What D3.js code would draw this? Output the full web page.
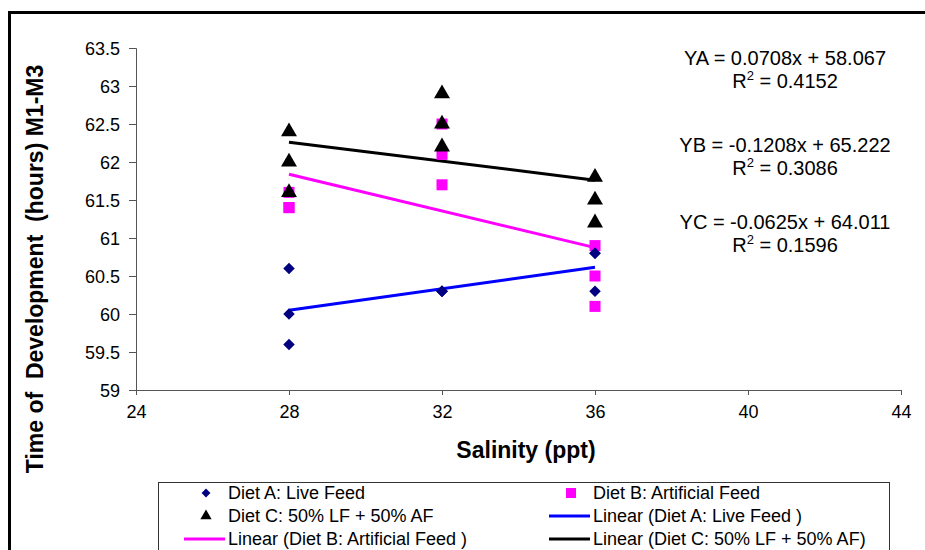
<!DOCTYPE html>
<html>
<head>
<meta charset="utf-8">
<script src="https://cdn.jsdelivr.net/npm/d3@7"></script>
<style>
  html, body { margin: 0; background: #fff; overflow: hidden; }
  svg { display: block; }
  text { font-family: Arial, "Liberation Sans", sans-serif; }
</style>
</head>
<body>
<div id="chart"></div>
<script>
// Salinity levels and the three replicates per level for each diet.
const salinity = [28, 32, 36];
const dietA = [[60.6, 60.0, 59.6], [60.3, 60.3, 60.3], [60.8, 60.8, 60.3]];
const dietB = [[61.4, 61.4, 61.6], [62.5, 62.1, 61.7], [60.9, 60.5, 60.1]];
const dietC = [[62.4, 62.0, 61.6], [62.9, 62.5, 62.2], [61.8, 61.5, 61.2]];

// Trend line coefficients as printed on the chart.
const fits = [
  { name: "A", slope: 0.0708, intercept: 58.067, r2: "0.4152", color: "#0000ff" },
  { name: "B", slope: -0.1208, intercept: 65.222, r2: "0.3086", color: "#ff00ff" },
  { name: "C", slope: -0.0625, intercept: 64.011, r2: "0.1596", color: "#000000" }
];

const xTicks = [24, 28, 32, 36, 40, 44];
const yTicks = [59, 59.5, 60, 60.5, 61, 61.5, 62, 62.5, 63, 63.5];

const width = 925, height = 550;
const svg = d3.select("#chart").append("svg")
  .attr("width", width)
  .attr("height", height);

// Outer frame of the figure (only the top and left edges are in view).
svg.append("path")
  .attr("d", `M9.5,${height + 5}V12.5H${width + 5}`)
  .attr("fill", "none")
  .attr("stroke", "#000")
  .attr("stroke-width", 3);

const x = d3.scaleLinear().domain([24, 44]).range([136, 901]);
const y = d3.scaleLinear().domain([59, 63.5]).range([390, 48]);

// Axes.
const xAxis = d3.axisBottom(x).tickValues(xTicks).tickSize(5).tickPadding(10).tickFormat(d3.format("d"));
const yAxis = d3.axisLeft(y).tickValues(yTicks).tickSize(7).tickPadding(9).tickFormat(d => d);

const gx = svg.append("g").attr("transform", `translate(0,${y(59)})`).call(xAxis);
const gy = svg.append("g").attr("transform", `translate(${x(24)},0)`).call(yAxis);
[gx, gy].forEach(g => {
  g.select(".domain").attr("stroke", "#555");
  g.selectAll(".tick line").attr("stroke", "#555");
  g.selectAll(".tick text")
    .attr("font-size", "18px")
    .attr("fill", "#000")
    .style("font-family", "Arial, 'Liberation Sans', sans-serif");
});
gy.selectAll(".tick text").attr("dy", "0.36em");

// Axis titles.
svg.append("text")
  .attr("x", 526).attr("y", 458)
  .attr("text-anchor", "middle")
  .attr("font-size", "23px")
  .attr("font-weight", "bold")
  .text("Salinity (ppt)");

svg.append("text")
  .attr("transform", "translate(43,269) rotate(-90)")
  .attr("text-anchor", "middle")
  .attr("font-size", "23px")
  .attr("font-weight", "bold")
  .attr("xml:space", "preserve")
  .text("Time of  Development  (hours) M1-M3");

// Trend lines from the first to the last salinity level.
const xs = d3.extent(salinity);
const lineGen = d3.line().x(d => x(d[0])).y(d => y(d[1]));
fits.forEach(f => {
  svg.append("path")
    .attr("d", lineGen(xs.map(v => [v, f.slope * v + f.intercept])))
    .attr("fill", "none")
    .attr("stroke", f.color)
    .attr("stroke-width", 3);
});

// Point markers.
function flatten(series) {
  const out = [];
  series.forEach((vals, i) => vals.forEach(v => out.push([salinity[i], v])));
  return out;
}
const diamond = d3.symbol().type(d3.symbolDiamond2).size(85);
const triangle = d3.symbol().type(d3.symbolTriangle).size(110);

svg.append("g").selectAll("rect")
  .data(flatten(dietB)).enter().append("rect")
  .attr("x", d => x(d[0]) - 5.5)
  .attr("y", d => y(d[1]) - 5.5)
  .attr("width", 11).attr("height", 11)
  .attr("fill", "#ff00ff");

svg.append("g").selectAll("path")
  .data(flatten(dietA)).enter().append("path")
  .attr("d", diamond)
  .attr("transform", d => `translate(${x(d[0])},${y(d[1])})`)
  .attr("fill", "#000080");

svg.append("g").selectAll("path")
  .data(flatten(dietC)).enter().append("path")
  .attr("d", triangle)
  .attr("transform", d => `translate(${x(d[0])},${y(d[1])})`)
  .attr("fill", "#000");

// Regression equations.
const eqY = [65, 152, 229];
fits.forEach((f, i) => {
  const sign = f.slope < 0 ? "-" : "";
  svg.append("text")
    .attr("x", 785).attr("y", eqY[i])
    .attr("text-anchor", "middle")
    .attr("font-size", "20px")
    .text(`Y${f.name} = ${sign}${Math.abs(f.slope).toFixed(4)}x + ${f.intercept.toFixed(3)}`);
  const t2 = svg.append("text")
    .attr("x", 785).attr("y", eqY[i] + 23)
    .attr("text-anchor", "middle")
    .attr("font-size", "20px");
  t2.append("tspan").text("R");
  t2.append("tspan").attr("font-size", "13px").attr("dy", "-8").text("2");
  t2.append("tspan").attr("dy", "8").text(` = ${f.r2}`);
});

// Legend.
const legend = svg.append("g");
legend.append("rect")
  .attr("x", 158.5).attr("y", 482.5)
  .attr("width", 731).attr("height", 100)
  .attr("fill", "#fff")
  .attr("stroke", "#333")
  .attr("stroke-width", 1);

const legendItems = [
  { label: "Diet A: Live Feed", kind: "diamond", color: "#000080", col: 0, row: 0 },
  { label: "Diet B: Artificial Feed", kind: "square", color: "#ff00ff", col: 1, row: 0 },
  { label: "Diet C: 50% LF + 50% AF", kind: "triangle", color: "#000", col: 0, row: 1 },
  { label: "Linear (Diet A: Live Feed )", kind: "line", color: "#0000ff", col: 1, row: 1 },
  { label: "Linear (Diet B: Artificial Feed )", kind: "line", color: "#ff00ff", col: 0, row: 2 },
  { label: "Linear (Diet C: 50% LF + 50% AF)", kind: "line", color: "#000", col: 1, row: 2 }
];
const colX = [228, 593];
const rowY = [499, 522, 545];

legendItems.forEach(it => {
  const tx = colX[it.col], ty = rowY[it.row];
  const my = ty - 6;
  const mx = tx - 22;
  if (it.kind === "diamond") {
    legend.append("path").attr("d", d3.symbol().type(d3.symbolDiamond2).size(50))
      .attr("transform", `translate(${mx},${my})`).attr("fill", it.color);
  } else if (it.kind === "square") {
    legend.append("rect").attr("x", mx - 5).attr("y", my - 5)
      .attr("width", 10).attr("height", 10).attr("fill", it.color);
  } else if (it.kind === "triangle") {
    legend.append("path").attr("d", d3.symbol().type(d3.symbolTriangle).size(55))
      .attr("transform", `translate(${mx},${my})`).attr("fill", it.color);
  } else {
    legend.append("line")
      .attr("x1", tx - 44).attr("x2", tx - 3)
      .attr("y1", my).attr("y2", my)
      .attr("stroke", it.color).attr("stroke-width", 3);
  }
  legend.append("text")
    .attr("x", tx).attr("y", ty)
    .attr("font-size", "18px")
    .text(it.label);
});
</script>
</body>
</html>
